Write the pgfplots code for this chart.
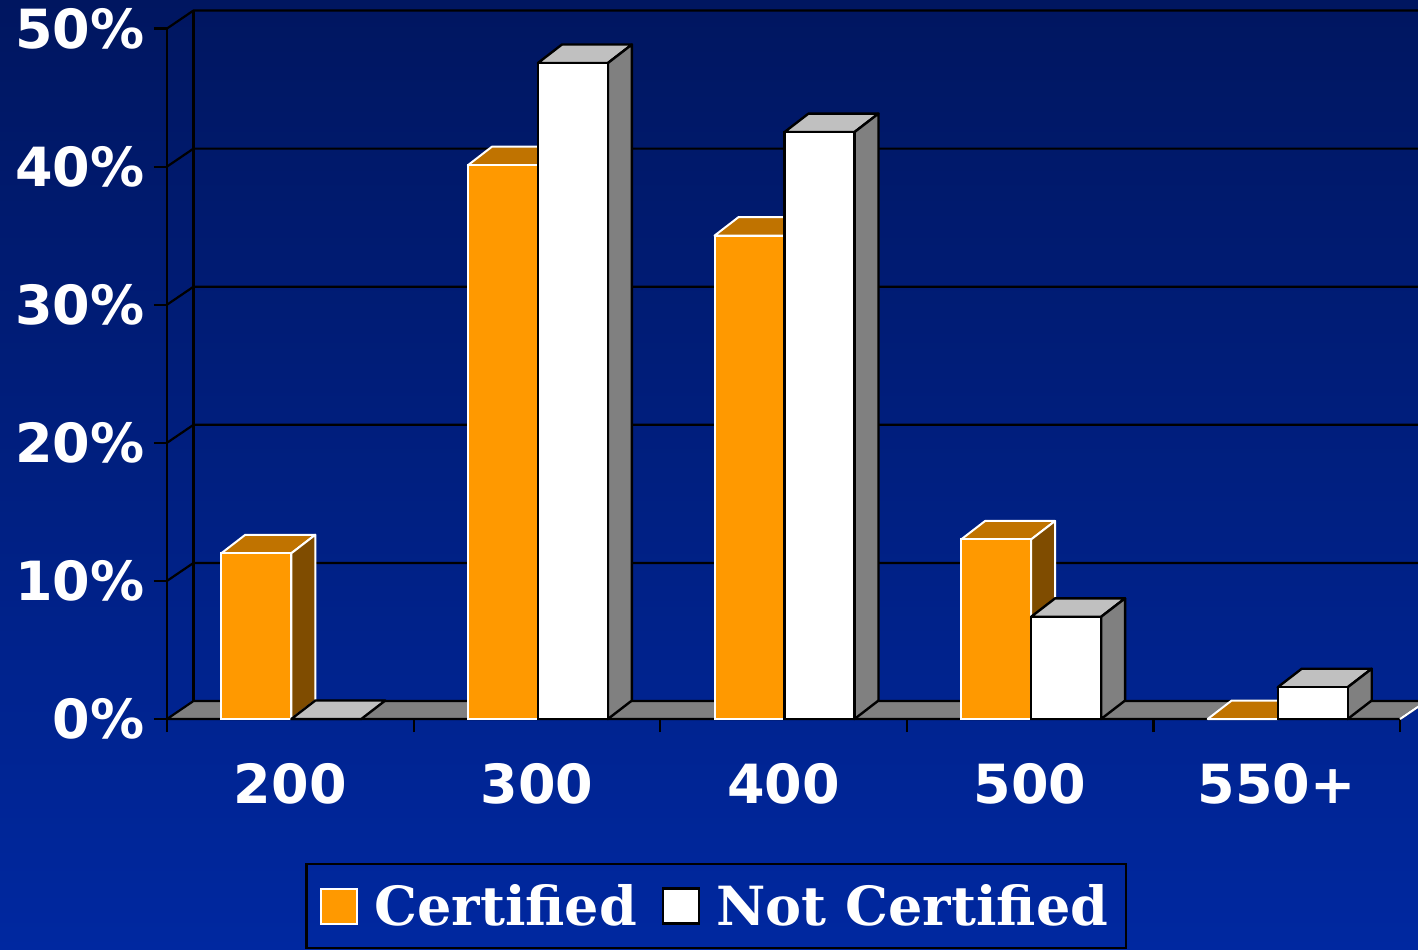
\documentclass[border=0pt]{standalone}
\usepackage{fontspec}
\setmainfont{DejaVu Sans}
\newfontfamily\legfont{DejaVu Serif}
\usepackage{pgfplots}
\pgfplotsset{compat=1.18}
\usepackage{pgfplotstable}

\definecolor{bgtop}{RGB}{0,22,96}
\definecolor{bgbot}{RGB}{0,40,160}
\definecolor{certfront}{RGB}{255,153,0}
\definecolor{certtop}{RGB}{192,115,0}
\definecolor{certside}{RGB}{127,76,0}
\definecolor{nottop}{RGB}{192,192,192}
\definecolor{notside}{RGB}{128,128,128}
\definecolor{floorgray}{RGB}{128,128,128}

\pgfdeclareplotmark{emptymark}{}

\pgfplotstableread{
x cert notcert
0.5 12.0 0
1.5 40.1 47.5
2.5 35.0 42.5
3.5 13.0 7.4
4.5 0 2.3
}\data

\newcommand\yunit{6.905pt}

\pgfplotsset{sqlegend/.style={legend image code/.code={\filldraw[##1] (0pt,-8.75pt) rectangle (18pt,8.75pt);}}}

\begin{document}
\begin{tikzpicture}
\useasboundingbox (0,0) rectangle (709pt,474.5pt);
\clip (0,0) rectangle (709pt,474.5pt);
\shade[top color=bgtop, bottom color=bgbot] (0,0) rectangle (709pt,474.5pt);
\begin{axis}[
  at={(83.5pt,115pt)}, anchor=south west,
  scale only axis, width=616.5pt, height=345.25pt,
  xmin=0, xmax=5, ymin=0, ymax=50,
  clip=false,
  axis x line*=bottom, axis y line*=left,
  axis line style={black, line width=1.1pt},
  tick align=outside,
  major tick length=6.5pt, minor tick length=6.5pt,
  tick style={black, line width=1.1pt},
  ytick={0,10,20,30,40,50},
  yticklabels={0\%,10\%,20\%,30\%,40\%,50\%},
  xtick={0.5,1.5,2.5,3.5,4.5},
  xticklabels={200,300,400,500,550+},
  minor xtick={0,1,2,3,4,5},
  major x tick style={draw=none},
  ticklabel style={text=white, font=\bfseries\fontsize{27}{30}\selectfont},
  yticklabel style={inner xsep=4.5pt},
  xticklabel style={yshift=-12pt},
  legend columns=2,
  legend style={at={(0.4455,-0.2085)}, anchor=north, draw=black, line width=1.1pt,
    fill=none, text=white, font=\legfont\bfseries\fontsize{27}{30}\selectfont,
    inner xsep=7pt, inner ysep=8pt,
    /tikz/every odd column/.append style={column sep=6pt},
    /tikz/every even column/.append style={column sep=10.5pt}},
]
% floor
\filldraw[fill=floorgray, draw=black, line width=1.1pt, line join=round]
  (axis cs:0,0) -- (axis cs:5,0) -- ++(13.25pt,9pt) -- ++(-616.5pt,0pt) -- cycle;
\draw[white, line width=1.1pt] (axis cs:5,0) -- ++(13.25pt,9pt);
% walls and grid
\draw[black, line width=1.1pt] (axis cs:0,0) ++(13.25pt,9pt) -- ++(0pt,345.25pt);
\draw[black, line width=1.1pt] (axis cs:0,10) -- ++(13.25pt,9pt) -- ++(640pt,0pt);
\draw[black, line width=1.1pt] (axis cs:0,20) -- ++(13.25pt,9pt) -- ++(640pt,0pt);
\draw[black, line width=1.1pt] (axis cs:0,30) -- ++(13.25pt,9pt) -- ++(640pt,0pt);
\draw[black, line width=1.1pt] (axis cs:0,40) -- ++(13.25pt,9pt) -- ++(640pt,0pt);
\draw[black, line width=1.1pt] (axis cs:0,50) -- ++(13.25pt,9pt) -- ++(640pt,0pt);

% Certified bars (front, top, side) drawn at each data point
\addplot[forget plot, scatter, only marks, mark=emptymark,
  visualization depends on={rawy \as \rawv},
  scatter/@pre marker code/.code={%
    \filldraw[fill=certtop, draw=white, line width=1pt, line join=round]
      (-34.5pt,0pt) -- (0.5pt,0pt) -- (12.5pt,9.25pt) -- (-22.5pt,9.25pt) -- cycle;
    \ifdim\rawv pt>0pt
    \filldraw[fill=certside, draw=white, line width=1pt, line join=round]
      (0.5pt,0pt) -- (12.5pt,9.25pt) -- (12.5pt,{9.25pt-\rawv*\yunit}) -- (0.5pt,{-\rawv*\yunit}) -- cycle;
    \filldraw[fill=certfront, draw=white, line width=1pt]
      (-34.5pt,{-\rawv*\yunit}) rectangle (0.5pt,0pt);
    \fi
  },
  scatter/@post marker code/.code={}]
  table[x=x, y=cert] {\data};

% Not certified bars
\addplot[forget plot, scatter, only marks, mark=emptymark,
  visualization depends on={rawy \as \rawv},
  scatter/@pre marker code/.code={%
    \filldraw[fill=nottop, draw=black, line width=1.2pt, line join=round]
      (0.5pt,0pt) -- (35.5pt,0pt) -- (47.5pt,9.25pt) -- (12.5pt,9.25pt) -- cycle;
    \ifdim\rawv pt>0pt
    \filldraw[fill=notside, draw=black, line width=1.2pt, line join=round]
      (35.5pt,0pt) -- (47.5pt,9.25pt) -- (47.5pt,{9.25pt-\rawv*\yunit}) -- (35.5pt,{-\rawv*\yunit}) -- cycle;
    \filldraw[fill=white, draw=black, line width=1.2pt]
      (0.5pt,{-\rawv*\yunit}) rectangle (35.5pt,0pt);
    \fi
  },
  scatter/@post marker code/.code={}]
  table[x=x, y=notcert] {\data};

\addlegendimage{sqlegend, fill=certfront, draw=white, line width=1pt}
\addlegendentry{Certified}
\addlegendimage{sqlegend, fill=white, draw=black, line width=1.2pt}
\addlegendentry{Not Certified}
\end{axis}
\end{tikzpicture}
\end{document}
